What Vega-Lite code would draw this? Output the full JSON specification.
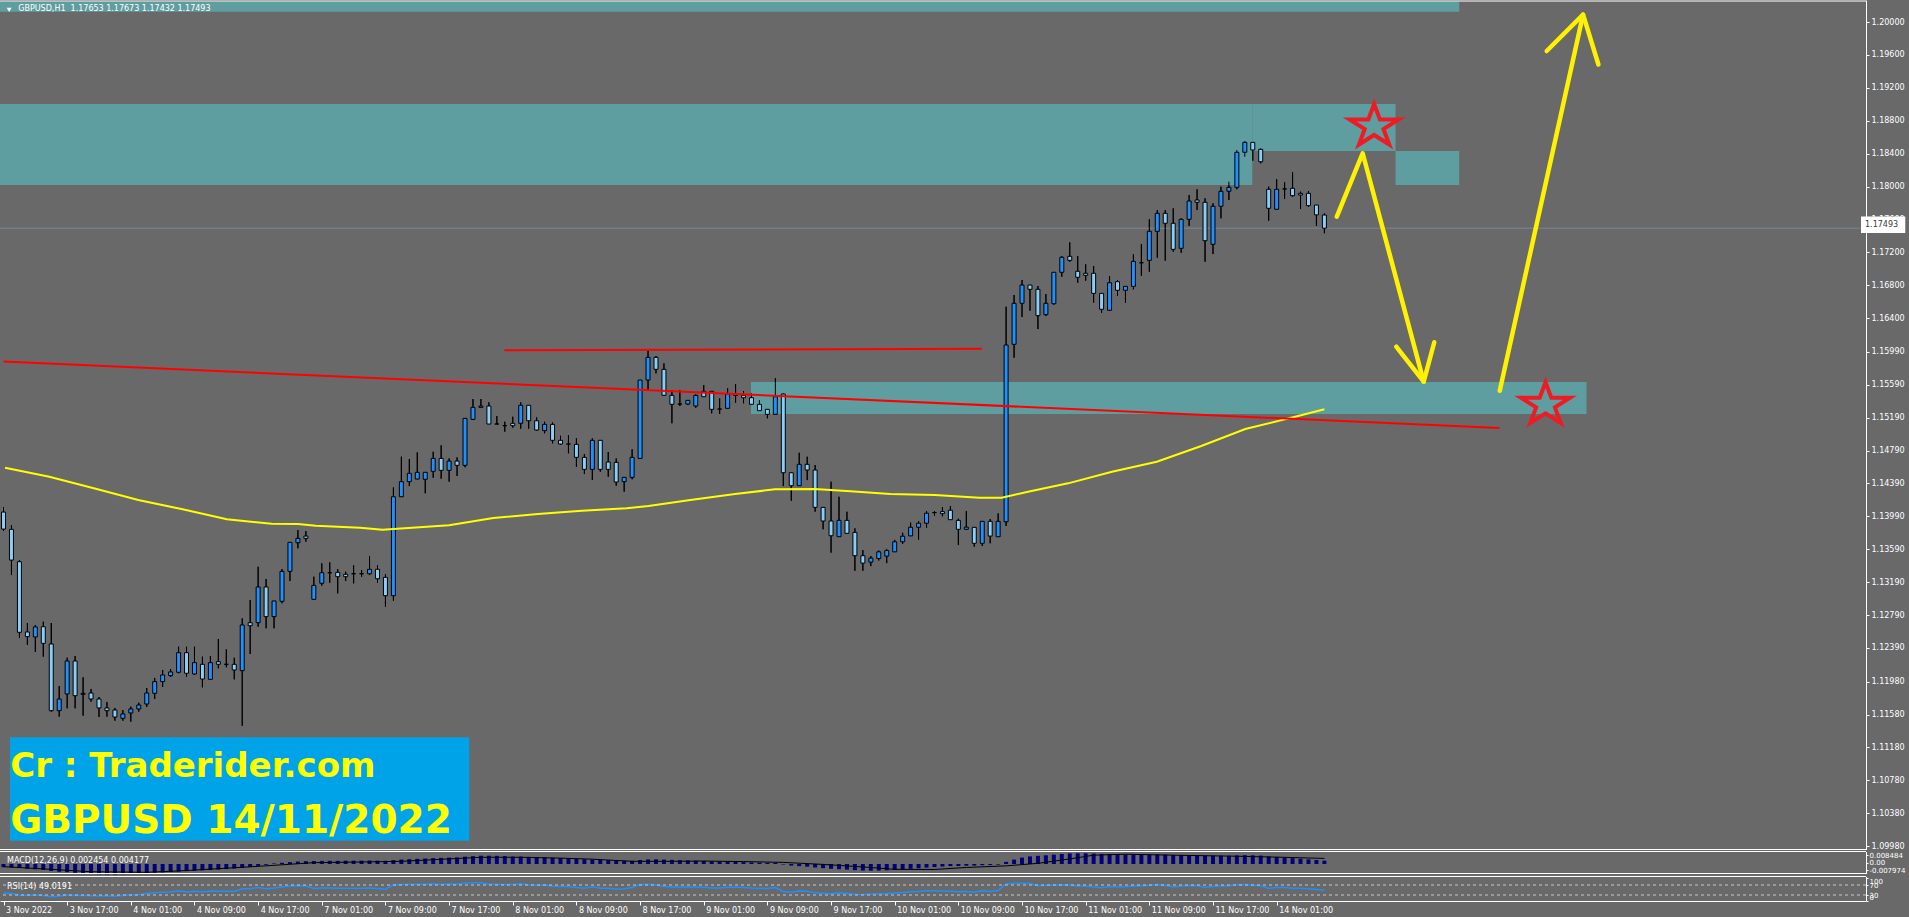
{
"$schema": "https://vega.github.io/schema/vega-lite/v6.json",
"width": 1866,
"height": 901,
"autosize": {"type": "none"},
"padding": {"left": 0, "top": 0, "right": 43, "bottom": 16},
"background": "#696969",
"config": {
  "view": {"stroke": null},
  "axis": {"labelFont": "DejaVu Sans", "labelFontSize": 8, "labelColor": "#FFFFFF", "domainColor": "#FFFFFF", "tickColor": "#FFFFFF", "grid": false, "labelFlush": false, "labelOverlap": false, "tickSize": 3, "domainWidth": 1, "tickWidth": 1}
},
"datasets": {
"candles": [
{"i":0,"o":1.14042,"h":1.14103,"l":1.13811,"c":1.13835,"m":-0.0024,"r":38},
{"i":1,"o":1.13832,"h":1.13884,"l":1.13276,"c":1.13458,"m":-0.0026,"r":36},
{"i":2,"o":1.13438,"h":1.13458,"l":1.12511,"c":1.12580,"m":-0.0030,"r":30},
{"i":3,"o":1.12584,"h":1.12693,"l":1.12426,"c":1.12527,"m":-0.0036,"r":29},
{"i":4,"o":1.12523,"h":1.12669,"l":1.12341,"c":1.12645,"m":-0.0040,"r":30},
{"i":5,"o":1.12648,"h":1.12709,"l":1.12284,"c":1.12446,"m":-0.0044,"r":28},
{"i":6,"o":1.12438,"h":1.12693,"l":1.11615,"c":1.11627,"m":-0.0052,"r":23},
{"i":7,"o":1.11627,"h":1.11927,"l":1.11554,"c":1.11769,"m":-0.0058,"r":25},
{"i":8,"o":1.11830,"h":1.12271,"l":1.11656,"c":1.12231,"m":-0.0061,"r":30},
{"i":9,"o":1.12231,"h":1.12292,"l":1.11656,"c":1.11809,"m":-0.0066,"r":28},
{"i":10,"o":1.11826,"h":1.12033,"l":1.11566,"c":1.11838,"m":-0.0070,"r":28},
{"i":11,"o":1.11842,"h":1.11891,"l":1.11736,"c":1.11769,"m":-0.0073,"r":27},
{"i":12,"o":1.11769,"h":1.11793,"l":1.11550,"c":1.11660,"m":-0.0076,"r":26},
{"i":13,"o":1.11660,"h":1.11733,"l":1.11554,"c":1.11627,"m":-0.0077,"r":26},
{"i":14,"o":1.11635,"h":1.11660,"l":1.11505,"c":1.11550,"m":-0.0077,"r":25},
{"i":15,"o":1.11534,"h":1.11635,"l":1.11505,"c":1.11587,"m":-0.0076,"r":28},
{"i":16,"o":1.11599,"h":1.11676,"l":1.11493,"c":1.11648,"m":-0.0073,"r":30},
{"i":17,"o":1.11648,"h":1.11724,"l":1.11615,"c":1.11696,"m":-0.0070,"r":32},
{"i":18,"o":1.11708,"h":1.11903,"l":1.11672,"c":1.11842,"m":-0.0067,"r":36},
{"i":19,"o":1.11838,"h":1.12025,"l":1.11769,"c":1.11980,"m":-0.0065,"r":39},
{"i":20,"o":1.11980,"h":1.12122,"l":1.11915,"c":1.12061,"m":-0.0063,"r":41},
{"i":21,"o":1.12053,"h":1.12134,"l":1.12037,"c":1.12098,"m":-0.0060,"r":42},
{"i":22,"o":1.12094,"h":1.12405,"l":1.12082,"c":1.12332,"m":-0.0057,"r":47},
{"i":23,"o":1.12332,"h":1.12405,"l":1.12041,"c":1.12082,"m":-0.0054,"r":42},
{"i":24,"o":1.12073,"h":1.12405,"l":1.12061,"c":1.12211,"m":-0.0051,"r":45},
{"i":25,"o":1.12191,"h":1.12284,"l":1.11911,"c":1.12012,"m":-0.0048,"r":42},
{"i":26,"o":1.12008,"h":1.12292,"l":1.12008,"c":1.12211,"m":-0.0045,"r":46},
{"i":27,"o":1.12223,"h":1.12499,"l":1.12142,"c":1.12191,"m":-0.0042,"r":45},
{"i":28,"o":1.12191,"h":1.12373,"l":1.12155,"c":1.12191,"m":-0.0038,"r":45},
{"i":29,"o":1.12191,"h":1.12271,"l":1.12008,"c":1.12122,"m":-0.0034,"r":44},
{"i":30,"o":1.12114,"h":1.12750,"l":1.11444,"c":1.12669,"m":-0.0028,"r":55},
{"i":31,"o":1.12697,"h":1.12973,"l":1.12316,"c":1.12660,"m":-0.0022,"r":55},
{"i":32,"o":1.12697,"h":1.13377,"l":1.12648,"c":1.13131,"m":-0.0014,"r":60},
{"i":33,"o":1.13131,"h":1.13228,"l":1.12629,"c":1.12770,"m":-0.0006,"r":55},
{"i":34,"o":1.12770,"h":1.12961,"l":1.12629,"c":1.12961,"m":0.0004,"r":58},
{"i":35,"o":1.12957,"h":1.13349,"l":1.12933,"c":1.13321,"m":0.0009,"r":62},
{"i":36,"o":1.13321,"h":1.13677,"l":1.13203,"c":1.13674,"m":0.0014,"r":66},
{"i":37,"o":1.13669,"h":1.13823,"l":1.13601,"c":1.13722,"m":0.0018,"r":67},
{"i":38,"o":1.13750,"h":1.13811,"l":1.13681,"c":1.13722,"m":0.0021,"r":66},
{"i":39,"o":1.12981,"h":1.13256,"l":1.12981,"c":1.13151,"m":0.0022,"r":56},
{"i":40,"o":1.13176,"h":1.13419,"l":1.13147,"c":1.13304,"m":0.0023,"r":58},
{"i":41,"o":1.13304,"h":1.13431,"l":1.13183,"c":1.13304,"m":0.0024,"r":58},
{"i":42,"o":1.13309,"h":1.13349,"l":1.13054,"c":1.13256,"m":0.0024,"r":57},
{"i":43,"o":1.13285,"h":1.13317,"l":1.13203,"c":1.13256,"m":0.0025,"r":57},
{"i":44,"o":1.13292,"h":1.13394,"l":1.13175,"c":1.13292,"m":0.0025,"r":57},
{"i":45,"o":1.13292,"h":1.13337,"l":1.13256,"c":1.13292,"m":0.0025,"r":57},
{"i":46,"o":1.13292,"h":1.13507,"l":1.13276,"c":1.13346,"m":0.0026,"r":58},
{"i":47,"o":1.13346,"h":1.13398,"l":1.13183,"c":1.13231,"m":0.0025,"r":56},
{"i":48,"o":1.13248,"h":1.13285,"l":1.12891,"c":1.13025,"m":0.0024,"r":53},
{"i":49,"o":1.13025,"h":1.14342,"l":1.12964,"c":1.14228,"m":0.0029,"r":70},
{"i":50,"o":1.14228,"h":1.14715,"l":1.14228,"c":1.14411,"m":0.0033,"r":72},
{"i":51,"o":1.14411,"h":1.14687,"l":1.14358,"c":1.14513,"m":0.0036,"r":73},
{"i":52,"o":1.14443,"h":1.14768,"l":1.14443,"c":1.14525,"m":0.0039,"r":73},
{"i":53,"o":1.14440,"h":1.14525,"l":1.14270,"c":1.14525,"m":0.0041,"r":73},
{"i":54,"o":1.14537,"h":1.14775,"l":1.14459,"c":1.14694,"m":0.0044,"r":75},
{"i":55,"o":1.14694,"h":1.14853,"l":1.14447,"c":1.14549,"m":0.0046,"r":72},
{"i":56,"o":1.14549,"h":1.14694,"l":1.14411,"c":1.14662,"m":0.0048,"r":74},
{"i":57,"o":1.14662,"h":1.14707,"l":1.14480,"c":1.14610,"m":0.0050,"r":73},
{"i":58,"o":1.14610,"h":1.15181,"l":1.14586,"c":1.15181,"m":0.0055,"r":78},
{"i":59,"o":1.15169,"h":1.15416,"l":1.15160,"c":1.15315,"m":0.0059,"r":79},
{"i":60,"o":1.15315,"h":1.15416,"l":1.15315,"c":1.15331,"m":0.0062,"r":79},
{"i":61,"o":1.15331,"h":1.15376,"l":1.15112,"c":1.15112,"m":0.0062,"r":73},
{"i":62,"o":1.15112,"h":1.15210,"l":1.15112,"c":1.15112,"m":0.0061,"r":73},
{"i":63,"o":1.15092,"h":1.15140,"l":1.15019,"c":1.15092,"m":0.0059,"r":72},
{"i":64,"o":1.15121,"h":1.15201,"l":1.15067,"c":1.15092,"m":0.0057,"r":72},
{"i":65,"o":1.15121,"h":1.15376,"l":1.15055,"c":1.15340,"m":0.0056,"r":75},
{"i":66,"o":1.15340,"h":1.15340,"l":1.15055,"c":1.15152,"m":0.0054,"r":71},
{"i":67,"o":1.15152,"h":1.15193,"l":1.15031,"c":1.15039,"m":0.0052,"r":69},
{"i":68,"o":1.15031,"h":1.15140,"l":1.14999,"c":1.15108,"m":0.0050,"r":70},
{"i":69,"o":1.15108,"h":1.15132,"l":1.14877,"c":1.14914,"m":0.0047,"r":65},
{"i":70,"o":1.14914,"h":1.14970,"l":1.14857,"c":1.14869,"m":0.0044,"r":64},
{"i":71,"o":1.14869,"h":1.14978,"l":1.14756,"c":1.14869,"m":0.0041,"r":64},
{"i":72,"o":1.14865,"h":1.14938,"l":1.14593,"c":1.14707,"m":0.0038,"r":60},
{"i":73,"o":1.14707,"h":1.14748,"l":1.14504,"c":1.14561,"m":0.0035,"r":57},
{"i":74,"o":1.14561,"h":1.14938,"l":1.14431,"c":1.14914,"m":0.0034,"r":63},
{"i":75,"o":1.14914,"h":1.14914,"l":1.14532,"c":1.14561,"m":0.0031,"r":57},
{"i":76,"o":1.14650,"h":1.14772,"l":1.14472,"c":1.14561,"m":0.0029,"r":57},
{"i":77,"o":1.14646,"h":1.14694,"l":1.14362,"c":1.14407,"m":0.0026,"r":54},
{"i":78,"o":1.14411,"h":1.14464,"l":1.14289,"c":1.14464,"m":0.0024,"r":55},
{"i":79,"o":1.14464,"h":1.14805,"l":1.14440,"c":1.14707,"m":0.0024,"r":60},
{"i":80,"o":1.14694,"h":1.15647,"l":1.14694,"c":1.15647,"m":0.0030,"r":72},
{"i":81,"o":1.15647,"h":1.16003,"l":1.15525,"c":1.15923,"m":0.0034,"r":73},
{"i":82,"o":1.15923,"h":1.15939,"l":1.15728,"c":1.15777,"m":0.0035,"r":70},
{"i":83,"o":1.15777,"h":1.15850,"l":1.15453,"c":1.15461,"m":0.0033,"r":64},
{"i":84,"o":1.15461,"h":1.15525,"l":1.15121,"c":1.15352,"m":0.0031,"r":62},
{"i":85,"o":1.15355,"h":1.15525,"l":1.15331,"c":1.15355,"m":0.0029,"r":62},
{"i":86,"o":1.15355,"h":1.15400,"l":1.15343,"c":1.15400,"m":0.0027,"r":63},
{"i":87,"o":1.15331,"h":1.15473,"l":1.15310,"c":1.15461,"m":0.0025,"r":62},
{"i":88,"o":1.15510,"h":1.15586,"l":1.15444,"c":1.15444,"m":0.0023,"r":61},
{"i":89,"o":1.15510,"h":1.15510,"l":1.15242,"c":1.15291,"m":0.0020,"r":58},
{"i":90,"o":1.15294,"h":1.15424,"l":1.15234,"c":1.15294,"m":0.0018,"r":58},
{"i":91,"o":1.15303,"h":1.15546,"l":1.15303,"c":1.15477,"m":0.0017,"r":61},
{"i":92,"o":1.15461,"h":1.15598,"l":1.15371,"c":1.15461,"m":0.0016,"r":61},
{"i":93,"o":1.15461,"h":1.15513,"l":1.15364,"c":1.15432,"m":0.0014,"r":60},
{"i":94,"o":1.15432,"h":1.15486,"l":1.15352,"c":1.15352,"m":0.0012,"r":58},
{"i":95,"o":1.15352,"h":1.15404,"l":1.15274,"c":1.15274,"m":0.0010,"r":57},
{"i":96,"o":1.15291,"h":1.15291,"l":1.15181,"c":1.15230,"m":0.0008,"r":56},
{"i":97,"o":1.15230,"h":1.15668,"l":1.15230,"c":1.15444,"m":0.0008,"r":60},
{"i":98,"o":1.15477,"h":1.15486,"l":1.14358,"c":1.14520,"m":-0.0004,"r":44},
{"i":99,"o":1.14520,"h":1.14520,"l":1.14179,"c":1.14362,"m":-0.0012,"r":41},
{"i":100,"o":1.14362,"h":1.14763,"l":1.14362,"c":1.14622,"m":-0.0016,"r":46},
{"i":101,"o":1.14622,"h":1.14715,"l":1.14431,"c":1.14553,"m":-0.0020,"r":45},
{"i":102,"o":1.14553,"h":1.14614,"l":1.14046,"c":1.14099,"m":-0.0026,"r":39},
{"i":103,"o":1.14099,"h":1.14099,"l":1.13832,"c":1.13933,"m":-0.0031,"r":37},
{"i":104,"o":1.13933,"h":1.14411,"l":1.13548,"c":1.13754,"m":-0.0036,"r":35},
{"i":105,"o":1.13742,"h":1.14228,"l":1.13742,"c":1.13941,"m":-0.0039,"r":39},
{"i":106,"o":1.13941,"h":1.14046,"l":1.13783,"c":1.13783,"m":-0.0042,"r":37},
{"i":107,"o":1.13795,"h":1.13844,"l":1.13328,"c":1.13511,"m":-0.0046,"r":33},
{"i":108,"o":1.13511,"h":1.13580,"l":1.13328,"c":1.13421,"m":-0.0049,"r":32},
{"i":109,"o":1.13433,"h":1.13507,"l":1.13385,"c":1.13482,"m":-0.0050,"r":34},
{"i":110,"o":1.13477,"h":1.13574,"l":1.13453,"c":1.13558,"m":-0.0049,"r":35},
{"i":111,"o":1.13506,"h":1.13591,"l":1.13421,"c":1.13574,"m":-0.0047,"r":36},
{"i":112,"o":1.13558,"h":1.13704,"l":1.13558,"c":1.13680,"m":-0.0044,"r":38},
{"i":113,"o":1.13680,"h":1.13790,"l":1.13655,"c":1.13748,"m":-0.0040,"r":40},
{"i":114,"o":1.13752,"h":1.13914,"l":1.13752,"c":1.13857,"m":-0.0036,"r":43},
{"i":115,"o":1.13857,"h":1.13933,"l":1.13706,"c":1.13906,"m":-0.0032,"r":44},
{"i":116,"o":1.13906,"h":1.14054,"l":1.13852,"c":1.14028,"m":-0.0027,"r":47},
{"i":117,"o":1.14035,"h":1.14054,"l":1.13994,"c":1.14035,"m":-0.0023,"r":47},
{"i":118,"o":1.14047,"h":1.14103,"l":1.13990,"c":1.14022,"m":-0.0019,"r":46},
{"i":119,"o":1.14064,"h":1.14115,"l":1.13949,"c":1.13949,"m":-0.0016,"r":45},
{"i":120,"o":1.13941,"h":1.13961,"l":1.13641,"c":1.13832,"m":-0.0015,"r":43},
{"i":121,"o":1.13832,"h":1.14054,"l":1.13832,"c":1.13859,"m":-0.0013,"r":44},
{"i":122,"o":1.13856,"h":1.13856,"l":1.13621,"c":1.13662,"m":-0.0012,"r":41},
{"i":123,"o":1.13662,"h":1.13929,"l":1.13629,"c":1.13929,"m":-0.0009,"r":47},
{"i":124,"o":1.13929,"h":1.13957,"l":1.13662,"c":1.13750,"m":-0.0008,"r":44},
{"i":125,"o":1.13742,"h":1.14026,"l":1.13742,"c":1.13929,"m":-0.0005,"r":48},
{"i":126,"o":1.13924,"h":1.16539,"l":1.13872,"c":1.16073,"m":0.0016,"r":74},
{"i":127,"o":1.16081,"h":1.16681,"l":1.15918,"c":1.16580,"m":0.0033,"r":77},
{"i":128,"o":1.16580,"h":1.16863,"l":1.16413,"c":1.16802,"m":0.0048,"r":77},
{"i":129,"o":1.16802,"h":1.16802,"l":1.16490,"c":1.16750,"m":0.0057,"r":76},
{"i":130,"o":1.16750,"h":1.16790,"l":1.16267,"c":1.16430,"m":0.0061,"r":67},
{"i":131,"o":1.16442,"h":1.16693,"l":1.16425,"c":1.16580,"m":0.0065,"r":68},
{"i":132,"o":1.16575,"h":1.16957,"l":1.16563,"c":1.16957,"m":0.0070,"r":70},
{"i":133,"o":1.16957,"h":1.17155,"l":1.16903,"c":1.17139,"m":0.0075,"r":71},
{"i":134,"o":1.17151,"h":1.17321,"l":1.17085,"c":1.17102,"m":0.0079,"r":70},
{"i":135,"o":1.16969,"h":1.17155,"l":1.16830,"c":1.16896,"m":0.0080,"r":66},
{"i":136,"o":1.16945,"h":1.17054,"l":1.16855,"c":1.16920,"m":0.0080,"r":66},
{"i":137,"o":1.16945,"h":1.17033,"l":1.16587,"c":1.16701,"m":0.0078,"r":62},
{"i":138,"o":1.16701,"h":1.16701,"l":1.16466,"c":1.16507,"m":0.0075,"r":59},
{"i":139,"o":1.16495,"h":1.16912,"l":1.16486,"c":1.16830,"m":0.0074,"r":64},
{"i":140,"o":1.16843,"h":1.16863,"l":1.16672,"c":1.16738,"m":0.0072,"r":62},
{"i":141,"o":1.16738,"h":1.16786,"l":1.16587,"c":1.16786,"m":0.0070,"r":63},
{"i":142,"o":1.16786,"h":1.17175,"l":1.16750,"c":1.17090,"m":0.0070,"r":66},
{"i":143,"o":1.17073,"h":1.17301,"l":1.16915,"c":1.17073,"m":0.0069,"r":66},
{"i":144,"o":1.17102,"h":1.17601,"l":1.16964,"c":1.17455,"m":0.0070,"r":69},
{"i":145,"o":1.17455,"h":1.17714,"l":1.17134,"c":1.17674,"m":0.0071,"r":72},
{"i":146,"o":1.17674,"h":1.17714,"l":1.17098,"c":1.17553,"m":0.0070,"r":68},
{"i":147,"o":1.17553,"h":1.17735,"l":1.17207,"c":1.17236,"m":0.0067,"r":62},
{"i":148,"o":1.17248,"h":1.17613,"l":1.17195,"c":1.17601,"m":0.0066,"r":66},
{"i":149,"o":1.17601,"h":1.17897,"l":1.17520,"c":1.17824,"m":0.0066,"r":68},
{"i":150,"o":1.17836,"h":1.17966,"l":1.17714,"c":1.17808,"m":0.0065,"r":67},
{"i":151,"o":1.17808,"h":1.17857,"l":1.17085,"c":1.17341,"m":0.0062,"r":60},
{"i":152,"o":1.17297,"h":1.17796,"l":1.17179,"c":1.17760,"m":0.0062,"r":64},
{"i":153,"o":1.17760,"h":1.17998,"l":1.17613,"c":1.17942,"m":0.0062,"r":66},
{"i":154,"o":1.17942,"h":1.18058,"l":1.17836,"c":1.17990,"m":0.0062,"r":67},
{"i":155,"o":1.17990,"h":1.18444,"l":1.17966,"c":1.18416,"m":0.0064,"r":71},
{"i":156,"o":1.18416,"h":1.18553,"l":1.18362,"c":1.18537,"m":0.0066,"r":72},
{"i":157,"o":1.18537,"h":1.18537,"l":1.18313,"c":1.18444,"m":0.0065,"r":69},
{"i":158,"o":1.18452,"h":1.18464,"l":1.18282,"c":1.18301,"m":0.0063,"r":67},
{"i":159,"o":1.17966,"h":1.17998,"l":1.17584,"c":1.17735,"m":0.0057,"r":56},
{"i":160,"o":1.17723,"h":1.18088,"l":1.17723,"c":1.17966,"m":0.0053,"r":60},
{"i":161,"o":1.17970,"h":1.18051,"l":1.17848,"c":1.17970,"m":0.0048,"r":60},
{"i":162,"o":1.17978,"h":1.18173,"l":1.17876,"c":1.17888,"m":0.0044,"r":57},
{"i":163,"o":1.17917,"h":1.17937,"l":1.17726,"c":1.17897,"m":0.0040,"r":57},
{"i":164,"o":1.17917,"h":1.17945,"l":1.17754,"c":1.17767,"m":0.0035,"r":55},
{"i":165,"o":1.17775,"h":1.17775,"l":1.17520,"c":1.17655,"m":0.0030,"r":52},
{"i":166,"o":1.17653,"h":1.17673,"l":1.17432,"c":1.17493,"m":0.0025,"r":49.02}
],
"ma": [
{"i":0.19,"p":1.14581},{"i":5.76,"p":1.14472},{"i":11.35,"p":1.14331},{"i":16.94,"p":1.14188},{"i":22.51,"p":1.14075},{"i":28.06,"p":1.13954},{"i":33.69,"p":1.13900},{"i":37.01,"p":1.13897},{"i":39.25,"p":1.13876},{"i":44.81,"p":1.13852},{"i":47.63,"p":1.13828},{"i":50.41,"p":1.13845},{"i":55.99,"p":1.13881},{"i":61.56,"p":1.13970},{"i":67.15,"p":1.14018},{"i":72.69,"p":1.14058},{"i":78.31,"p":1.14088},{"i":81.06,"p":1.14116},{"i":86.31,"p":1.14188},{"i":91.94,"p":1.14261},{"i":96.94,"p":1.14318},{"i":101.94,"p":1.14322},{"i":106.44,"p":1.14294},{"i":111.44,"p":1.14261},{"i":117.06,"p":1.14249},{"i":122.63,"p":1.14216},{"i":125.44,"p":1.14216},{"i":128.76,"p":1.14289},{"i":133.79,"p":1.14391},{"i":139.31,"p":1.14532},{"i":144.94,"p":1.14654},{"i":150.53,"p":1.14845},{"i":156.06,"p":1.15051},{"i":162.69,"p":1.15209},{"i":166,"p":1.15291}
],
"sig": [
{"i":0,"v":-0.0020},{"i":6,"v":-0.0040},{"i":11,"v":-0.0058},{"i":18,"v":-0.0062},{"i":22,"v":-0.0052},{"i":27,"v":-0.0035},{"i":31,"v":-0.0021},{"i":35,"v":-0.0006},{"i":39,"v":0.0010},{"i":45,"v":0.0015},{"i":50,"v":0.0020},{"i":55,"v":0.0035},{"i":60,"v":0.0050},{"i":65,"v":0.0050},{"i":70,"v":0.0044},{"i":74,"v":0.0036},{"i":79,"v":0.0020},{"i":84,"v":0.0020},{"i":88,"v":0.0022},{"i":93,"v":0.0018},{"i":98,"v":0.0012},{"i":103,"v":-0.0003},{"i":109,"v":-0.0026},{"i":112,"v":-0.0040},{"i":117,"v":-0.0041},{"i":121,"v":-0.0026},{"i":126,"v":-0.0014},{"i":130,"v":0.0005},{"i":134,"v":0.0038},{"i":137,"v":0.0066},{"i":141,"v":0.0073},{"i":147,"v":0.0066},{"i":155,"v":0.0058},{"i":161,"v":0.0050},{"i":166,"v":0.004177}
],
"zones": [
{"a":-1,"b":156.94,"lo":1.18018,"hi":1.19003},
{"a":156.94,"b":174.94,"lo":1.18432,"hi":1.19003},
{"a":174.94,"b":182.94,"lo":1.18018,"hi":1.18432},
{"a":93.94,"b":198.94,"lo":1.15234,"hi":1.15623},
{"a":-1,"b":182.94,"lo":1.20125,"hi":1.20249}
],
"red": [
{"g":"h","i":62.94,"p":1.16010},{"g":"h","i":122.94,"p":1.16026},
{"g":"s","i":0,"p":1.15871},{"g":"s","i":188,"p":1.15064}
],
"arrows": [
{"g":1,"o":1,"i":167.56,"p":1.17633},{"g":1,"o":2,"i":170.81,"p":1.18404},{"g":1,"o":3,"i":178.48,"p":1.15627},
{"g":2,"o":1,"i":175.03,"p":1.16052},{"g":2,"o":2,"i":178.48,"p":1.15627},{"g":2,"o":3,"i":179.81,"p":1.16106},
{"g":3,"o":1,"i":188.04,"p":1.15517},{"g":3,"o":2,"i":198.51,"p":1.20090},
{"g":4,"o":1,"i":193.94,"p":1.19647},{"g":4,"o":2,"i":198.51,"p":1.20090},{"g":4,"o":3,"i":200.44,"p":1.19483}
],
"stars": [{"i":172.25,"p":1.18731},{"i":193.79,"p":1.15347}]
},
"resolve": {"scale": {"y": "independent"}},
"layer": [
{"layer": [
 {"data": {"name": "candles"},
  "mark": {"type": "rule", "color": "#000000", "strokeWidth": 1, "clip": true},
  "encoding": {
   "x": {"field": "i", "type": "quantitative", "scale": {"domain": [0.1875, 233.4375], "nice": false, "zero": false},
         "axis": {"orient": "bottom", "title": null, "values": [0,8,16,24,32,40,48,56,64,72,80,88,96,104,112,120,128,136,144,152,160], "tickCount": 60,
                  "labelExpr": "['3 Nov 2022','3 Nov 17:00','4 Nov 01:00','4 Nov 09:00','4 Nov 17:00','7 Nov 01:00','7 Nov 09:00','7 Nov 17:00','8 Nov 01:00','8 Nov 09:00','8 Nov 17:00','9 Nov 01:00','9 Nov 09:00','9 Nov 17:00','10 Nov 01:00','10 Nov 09:00','10 Nov 17:00','11 Nov 01:00','11 Nov 09:00','11 Nov 17:00','14 Nov 01:00'][round(datum.value/8)]",
                  "labelAlign": "left", "labelBaseline": "top", "labelOffset": 2, "labelPadding": 1, "tickSize": 4, "labelFlush": false, "labelOverlap": false, "grid": false}},
   "y": {"field": "l", "type": "quantitative", "scale": {"domain": [1.0993926, 1.2026748], "range": [849.5, 0], "nice": false, "zero": false},
         "axis": {"orient": "right", "title": null, "values": [1.2,1.196,1.192,1.188,1.184,1.18,1.176,1.172,1.168,1.164,1.1599,1.1559,1.1519,1.1479,1.1439,1.1399,1.1359,1.1319,1.1279,1.1239,1.1198,1.1158,1.1118,1.1078,1.1038,1.0998], "tickCount": 60,
                  "format": ".5f", "tickSize": 3, "labelPadding": 2, "labelOverlap": false, "grid": false}},
   "y2": {"field": "h"}}},
 {"data": {"name": "zones"},
  "mark": {"type": "rect", "fill": "#5F9EA0", "clip": true},
  "encoding": {
   "x": {"field": "a", "type": "quantitative", "scale": {"domain": [0.1875, 233.4375], "nice": false, "zero": false}},
   "x2": {"field": "b"},
   "y": {"field": "lo", "type": "quantitative", "scale": {"domain": [1.0993926, 1.2026748], "range": [849.5, 0], "nice": false, "zero": false}},
   "y2": {"field": "hi"}}},
 {"data": {"values": [{"p": 1.20255}, {"p": 1.0993926}]},
  "mark": {"type": "rule", "color": "#FFFFFF", "strokeWidth": 1},
  "encoding": {"y": {"field": "p", "type": "quantitative", "scale": {"domain": [1.0993926, 1.2026748], "range": [849.5, 0], "nice": false, "zero": false}}}},
 {"data": {"values": [{"p": 1.17493}]},
  "mark": {"type": "rule", "color": "#778899", "strokeWidth": 1},
  "encoding": {"y": {"field": "p", "type": "quantitative", "scale": {"domain": [1.0993926, 1.2026748], "range": [849.5, 0], "nice": false, "zero": false}}}},
 {"data": {"name": "candles"},
  "mark": {"type": "rule", "color": "#000000", "strokeWidth": 1, "clip": true},
  "encoding": {
   "x": {"field": "i", "type": "quantitative", "scale": {"domain": [0.1875, 233.4375], "nice": false, "zero": false}},
   "y": {"field": "l", "type": "quantitative", "scale": {"domain": [1.0993926, 1.2026748], "range": [849.5, 0], "nice": false, "zero": false}},
   "y2": {"field": "h"}}},
 {"data": {"name": "candles"},
  "mark": {"type": "bar", "size": 4, "stroke": "#000000", "strokeWidth": 1, "clip": true},
  "encoding": {
   "x": {"field": "i", "type": "quantitative", "scale": {"domain": [0.1875, 233.4375], "nice": false, "zero": false}},
   "y": {"field": "o", "type": "quantitative", "scale": {"domain": [1.0993926, 1.2026748], "range": [849.5, 0], "nice": false, "zero": false}},
   "y2": {"field": "c"},
   "fill": {"condition": {"test": "datum.c >= datum.o", "value": "#1E90FF"}, "value": "#87CEFA"}}},
 {"data": {"name": "ma"},
  "mark": {"type": "line", "color": "#FFFF00", "strokeWidth": 2, "clip": true},
  "encoding": {
   "x": {"field": "i", "type": "quantitative", "scale": {"domain": [0.1875, 233.4375], "nice": false, "zero": false}},
   "y": {"field": "p", "type": "quantitative", "scale": {"domain": [1.0993926, 1.2026748], "range": [849.5, 0], "nice": false, "zero": false}}}},
 {"data": {"name": "red"},
  "mark": {"type": "line", "color": "#FF0000", "strokeWidth": 2, "clip": true},
  "encoding": {
   "x": {"field": "i", "type": "quantitative", "scale": {"domain": [0.1875, 233.4375], "nice": false, "zero": false}},
   "y": {"field": "p", "type": "quantitative", "scale": {"domain": [1.0993926, 1.2026748], "range": [849.5, 0], "nice": false, "zero": false}},
   "detail": {"field": "g"}}},
 {"data": {"name": "arrows"},
  "mark": {"type": "line", "color": "#FFF200", "strokeWidth": 4.5, "strokeCap": "round", "strokeJoin": "round", "clip": true},
  "encoding": {
   "x": {"field": "i", "type": "quantitative", "scale": {"domain": [0.1875, 233.4375], "nice": false, "zero": false}},
   "y": {"field": "p", "type": "quantitative", "scale": {"domain": [1.0993926, 1.2026748], "range": [849.5, 0], "nice": false, "zero": false}},
   "detail": {"field": "g"},
   "order": {"field": "o"}}},
 {"data": {"name": "stars"},
  "mark": {"type": "point", "shape": "M0,-0.87L0.2245,-0.269L0.951,-0.269L0.363,0.103L0.588,0.704L0,0.332L-0.588,0.704L-0.363,0.103L-0.951,-0.269L-0.2245,-0.269Z", "size": 2663, "filled": false, "stroke": "#ED1C24", "strokeWidth": 4, "opacity": 1},
  "encoding": {
   "x": {"field": "i", "type": "quantitative", "scale": {"domain": [0.1875, 233.4375], "nice": false, "zero": false}},
   "y": {"field": "p", "type": "quantitative", "scale": {"domain": [1.0993926, 1.2026748], "range": [849.5, 0], "nice": false, "zero": false}}}},
 {"data": {"values": [{"a": 0.8125, "b": 58.525, "lo": 1.10047, "hi": 1.11304}]},
  "mark": {"type": "rect", "fill": "#00A2E8"},
  "encoding": {
   "x": {"field": "a", "type": "quantitative", "scale": {"domain": [0.1875, 233.4375], "nice": false, "zero": false}},
   "x2": {"field": "b"},
   "y": {"field": "lo", "type": "quantitative", "scale": {"domain": [1.0993926, 1.2026748], "range": [849.5, 0], "nice": false, "zero": false}},
   "y2": {"field": "hi"}}},
 {"data": {"values": [{"t": "Cr : Traderider.com", "i": 0.85, "p": 1.10824}]},
  "mark": {"type": "text", "font": "DejaVu Sans", "fontWeight": "bold", "fontSize": 34, "fill": "#FFFF00", "align": "left", "baseline": "alphabetic"},
  "encoding": {
   "x": {"field": "i", "type": "quantitative", "scale": {"domain": [0.1875, 233.4375], "nice": false, "zero": false}},
   "y": {"field": "p", "type": "quantitative", "scale": {"domain": [1.0993926, 1.2026748], "range": [849.5, 0], "nice": false, "zero": false}},
   "text": {"field": "t"}}},
 {"data": {"values": [{"t": "GBPUSD 14/11/2022", "i": 0.85, "p": 1.10136}]},
  "mark": {"type": "text", "font": "DejaVu Sans", "fontWeight": "bold", "fontSize": 39, "fill": "#FFFF00", "align": "left", "baseline": "alphabetic"},
  "encoding": {
   "x": {"field": "i", "type": "quantitative", "scale": {"domain": [0.1875, 233.4375], "nice": false, "zero": false}},
   "y": {"field": "p", "type": "quantitative", "scale": {"domain": [1.0993926, 1.2026748], "range": [849.5, 0], "nice": false, "zero": false}},
   "text": {"field": "t"}}},
 {"data": {"values": [{"t": "GBPUSD,H1\u00a0 1.17653 1.17673 1.17432 1.17493", "i": 1.85, "p": 1.20152}]},
  "mark": {"type": "text", "font": "DejaVu Sans", "fontSize": 8, "fill": "#FFFFFF", "align": "left", "baseline": "middle"},
  "encoding": {
   "x": {"field": "i", "type": "quantitative", "scale": {"domain": [0.1875, 233.4375], "nice": false, "zero": false}},
   "y": {"field": "p", "type": "quantitative", "scale": {"domain": [1.0993926, 1.2026748], "range": [849.5, 0], "nice": false, "zero": false}},
   "text": {"field": "t"}}},
 {"data": {"values": [{"i": 0.71, "p": 1.20146}]},
  "mark": {"type": "point", "shape": "triangle-down", "size": 24, "filled": true, "fill": "#FFFFFF", "opacity": 1, "strokeWidth": 0},
  "encoding": {
   "x": {"field": "i", "type": "quantitative", "scale": {"domain": [0.1875, 233.4375], "nice": false, "zero": false}},
   "y": {"field": "p", "type": "quantitative", "scale": {"domain": [1.0993926, 1.2026748], "range": [849.5, 0], "nice": false, "zero": false}}}},
 {"data": {"values": [{"a": 233.4375, "b": 239, "lo": 1.17435, "hi": 1.17635}]},
  "mark": {"type": "rect", "fill": "#FFFFFF", "clip": false},
  "encoding": {
   "x": {"field": "a", "type": "quantitative", "scale": {"domain": [0.1875, 233.4375], "nice": false, "zero": false}},
   "x2": {"field": "b"},
   "y": {"field": "lo", "type": "quantitative", "scale": {"domain": [1.0993926, 1.2026748], "range": [849.5, 0], "nice": false, "zero": false}},
   "y2": {"field": "hi"}}},
 {"data": {"values": [{"t": "1.17493", "i": 233.94, "p": 1.17532}]},
  "mark": {"type": "text", "font": "DejaVu Sans", "fontSize": 8, "fill": "#3A3A3A", "align": "left", "baseline": "middle", "clip": false},
  "encoding": {
   "x": {"field": "i", "type": "quantitative", "scale": {"domain": [0.1875, 233.4375], "nice": false, "zero": false}},
   "y": {"field": "p", "type": "quantitative", "scale": {"domain": [1.0993926, 1.2026748], "range": [849.5, 0], "nice": false, "zero": false}},
   "text": {"field": "t"}}}
]},
{"layer": [
 {"data": {"name": "candles"},
  "mark": {"type": "bar", "size": 4, "color": "#000080", "clip": true},
  "encoding": {
   "x": {"field": "i", "type": "quantitative", "scale": {"domain": [0.1875, 233.4375], "nice": false, "zero": false}},
   "y": {"field": "m", "type": "quantitative", "scale": {"domain": [-0.00711, 0.00935], "range": [873.5, 851.5], "nice": false, "zero": false},
         "axis": {"orient": "right", "title": null, "values": [0.00636, 0.00075, -0.00486], "tickCount": 10, "labelExpr": "datum.value > 0.003 ? '0.008484' : (datum.value < -0.003 ? '-0.007974' : '0.00')", "labelFontSize": 7, "tickSize": 2, "labelPadding": 1, "grid": false}},
   "y2": {"datum": 0}}},
 {"data": {"values": [{"v": 0.00935}, {"v": -0.00711}]},
  "mark": {"type": "rule", "color": "#FFFFFF", "strokeWidth": 1},
  "encoding": {"y": {"field": "v", "type": "quantitative", "scale": {"domain": [-0.00711, 0.00935], "range": [873.5, 851.5], "nice": false, "zero": false}}}},
 {"data": {"name": "sig"},
  "mark": {"type": "line", "color": "#000000", "strokeWidth": 1, "clip": true},
  "encoding": {
   "x": {"field": "i", "type": "quantitative", "scale": {"domain": [0.1875, 233.4375], "nice": false, "zero": false}},
   "y": {"field": "v", "type": "quantitative", "scale": {"domain": [-0.00711, 0.00935], "range": [873.5, 851.5], "nice": false, "zero": false}}}},
 {"data": {"values": [{"t": "MACD(12,26,9) 0.002454 0.004177", "i": 0.4375, "v": 0.00247}]},
  "mark": {"type": "text", "font": "DejaVu Sans", "fontSize": 8, "fill": "#FFFFFF", "align": "left", "baseline": "middle"},
  "encoding": {
   "x": {"field": "i", "type": "quantitative", "scale": {"domain": [0.1875, 233.4375], "nice": false, "zero": false}},
   "y": {"field": "v", "type": "quantitative", "scale": {"domain": [-0.00711, 0.00935], "range": [873.5, 851.5], "nice": false, "zero": false}},
   "text": {"field": "t"}}}
]},
{"layer": [
 {"data": {"name": "candles"},
  "mark": {"type": "line", "color": "#1E90FF", "strokeWidth": 1.5, "clip": true},
  "encoding": {
   "x": {"field": "i", "type": "quantitative", "scale": {"domain": [0.1875, 233.4375], "nice": false, "zero": false}},
   "y": {"field": "r", "type": "quantitative", "scale": {"domain": [6, 104], "range": [901, 876.5], "nice": false, "zero": false},
         "axis": {"orient": "right", "title": null, "values": [100, 70, 30, 6.3], "tickCount": 10, "labelExpr": "datum.value < 10 ? '0' : datum.label", "labelFontSize": 7,
                  "labelBaseline": {"condition": [{"test": "datum.value > 90", "value": "top"}, {"test": "datum.value < 10", "value": "bottom"}], "value": "middle"},
                  "tickSize": 2, "labelPadding": 1, "grid": false}}}},
 {"data": {"values": [{"v": 70}, {"v": 30}]},
  "mark": {"type": "rule", "color": "#C8C8C8", "strokeWidth": 1, "strokeDash": [3, 3]},
  "encoding": {"y": {"field": "v", "type": "quantitative", "scale": {"domain": [6, 104], "range": [901, 876.5], "nice": false, "zero": false}}}},
 {"data": {"values": [{"v": 104}]},
  "mark": {"type": "rule", "color": "#FFFFFF", "strokeWidth": 1},
  "encoding": {"y": {"field": "v", "type": "quantitative", "scale": {"domain": [6, 104], "range": [901, 876.5], "nice": false, "zero": false}}}},
 {"data": {"values": [{"t": "RSI(14) 49.0191", "i": 0.4375, "v": 60.8}]},
  "mark": {"type": "text", "font": "DejaVu Sans", "fontSize": 8, "fill": "#FFFFFF", "align": "left", "baseline": "middle"},
  "encoding": {
   "x": {"field": "i", "type": "quantitative", "scale": {"domain": [0.1875, 233.4375], "nice": false, "zero": false}},
   "y": {"field": "v", "type": "quantitative", "scale": {"domain": [6, 104], "range": [901, 876.5], "nice": false, "zero": false}},
   "text": {"field": "t"}}}
]}
]
}
